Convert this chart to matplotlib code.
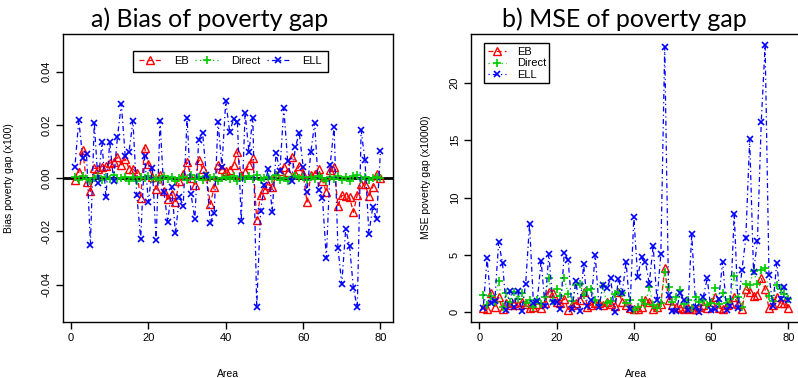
import matplotlib
matplotlib.use("Agg")
import matplotlib.pyplot as plt
import numpy as np

areas = list(range(1, 81))

bias_eb = [-0.0008, 0.0022, 0.0107, -0.0016, -0.0050, 0.0037, 0.0036, 0.0043, 0.0045, 0.0056,
           0.0062, 0.0079, 0.0050, 0.0072, 0.0036, 0.0034, 0.0018, -0.0075, 0.0115, 0.0052,
           0.0005, -0.0042, 0.0011, -0.0050, -0.0080, -0.0060, -0.0088, -0.0011, 0.0015, 0.0060,
           0.0002, -0.0024, 0.0069, 0.0034, 0.0008, -0.0098, -0.0033, 0.0050, 0.0036, 0.0027,
           0.0030, 0.0050, 0.0098, 0.0010, 0.0024, 0.0050, 0.0075, -0.0156, -0.0062, -0.0042,
           -0.0024, -0.0033, 0.0011, 0.0027, 0.0043, 0.0024, 0.0081, 0.0017, 0.0046, 0.0017,
           -0.0090, 0.0011, 0.0017, 0.0036, -0.0010, -0.0052, 0.0030, 0.0043, -0.0105, -0.0065,
           -0.0068, -0.0072, -0.0128, -0.0062, -0.0021, -0.0021, -0.0068, -0.0033, 0.0014, 0.0000]

bias_direct = [0.0004, -0.0006, 0.0009, -0.0003, -0.0011, 0.0002, 0.0007, -0.0008, 0.0003, -0.0002,
               0.0010, -0.0005, 0.0001, 0.0006, -0.0009, 0.0004, -0.0012, 0.0005, -0.0001, 0.0008,
               -0.0004, 0.0002, -0.0007, 0.0009, -0.0003, 0.0006, -0.0010, 0.0001, 0.0004, -0.0006,
               0.0011, -0.0002, 0.0003, -0.0008, 0.0007, -0.0001, 0.0005, -0.0009, 0.0002, 0.0006,
               -0.0004, 0.0008, -0.0011, 0.0003, -0.0005, 0.0009, -0.0002, 0.0012, -0.0007, 0.0001,
               0.0005, -0.0003, 0.0010, -0.0006, 0.0002, -0.0009, 0.0004, 0.0007, -0.0001, 0.0003,
               -0.0008, 0.0006, -0.0004, 0.0009, 0.0001, -0.0010, 0.0005, -0.0002, 0.0008, -0.0006,
               0.0003, -0.0012, 0.0007, 0.0010, -0.0003, 0.0004, -0.0007, 0.0002, 0.0006, -0.0001]

bias_ell = [0.0043, 0.0218, 0.0077, 0.0090, -0.0250, 0.0208, -0.0020, 0.0136, -0.0071, 0.0136,
            -0.0010, 0.0154, 0.0279, 0.0084, 0.0100, 0.0215, -0.0065, -0.0227, 0.0085, -0.0090,
            0.0039, -0.0232, 0.0215, -0.0052, -0.0166, -0.0033, -0.0207, -0.0071, -0.0103, 0.0225,
            -0.0058, -0.0154, 0.0145, 0.0170, 0.0011, -0.0169, -0.0131, 0.0212, 0.0043, 0.0290,
            0.0174, 0.0221, 0.0212, -0.0160, 0.0243, 0.0098, 0.0227, -0.0483, -0.0122, -0.0024,
            0.0034, -0.0126, 0.0094, 0.0027, 0.0263, 0.0065, -0.0009, 0.0116, 0.0170, 0.0043,
            -0.0052, 0.0098, 0.0208, -0.0046, -0.0075, -0.0300, 0.0050, 0.0192, -0.0262, -0.0397,
            -0.0192, -0.0253, -0.0414, -0.0485, 0.0179, 0.0067, -0.0208, -0.0109, -0.0154, 0.0103]

mse_eb = [0.35, 0.25, 1.65, 0.5, 1.3, 0.25, 0.8, 0.6, 0.85, 0.65,
          0.9, 0.7, 0.35, 0.5, 0.75, 0.4, 0.8, 1.8, 1.7, 0.9,
          0.8, 1.2, 0.2, 0.6, 0.8, 1.1, 1.8, 0.5, 0.65, 0.8,
          0.85, 0.6, 0.9, 0.7, 0.55, 1.8, 0.9, 0.6, 0.4, 0.25,
          0.3, 0.5, 1.1, 0.9, 0.25, 0.5, 0.7, 3.85, 1.1, 0.65,
          0.5, 0.4, 0.3, 0.4, 0.25, 0.3, 0.5, 0.6, 0.4, 0.9,
          1.3, 0.4, 0.25, 0.6, 0.8, 1.35, 0.7, 0.25, 2.0, 1.8,
          1.4, 1.5, 3.0, 2.0, 0.35, 0.65, 1.35, 0.8, 0.8, 0.35]

mse_direct = [1.5, 0.6, 1.4, 0.9, 2.7, 0.5, 1.65, 0.9, 1.8, 1.2,
              1.65, 0.8, 1.1, 0.5, 1.1, 0.7, 1.3, 2.95, 1.0, 2.0,
              1.4, 2.95, 1.6, 1.0, 2.4, 2.5, 1.5, 1.95, 2.0, 1.1,
              0.6, 2.3, 0.8, 1.0, 1.6, 1.8, 1.65, 0.8, 1.1, 0.2,
              0.5, 1.1, 0.7, 2.2, 0.6, 0.35, 0.8, 3.55, 2.2, 0.9,
              1.35, 1.95, 0.7, 1.1, 0.4, 1.35, 0.9, 1.1, 0.6, 0.8,
              2.1, 0.7, 1.65, 0.8, 1.2, 3.15, 1.35, 0.5, 2.5, 2.4,
              3.6, 2.5, 3.65, 3.85, 1.4, 1.0, 2.4, 2.0, 1.6, 1.2]

mse_ell = [0.35, 4.7, 0.8, 1.0, 6.1, 4.3, 0.2, 1.9, 0.5, 1.9,
           0.15, 2.5, 7.7, 0.8, 1.0, 4.5, 0.55, 5.1, 0.9, 0.9,
           0.25, 5.2, 4.55, 0.25, 2.75, 0.15, 4.2, 0.55, 1.05, 5.0,
           0.45, 2.4, 2.1, 2.95, 0.05, 2.9, 1.7, 4.4, 0.25, 8.3,
           3.1, 4.85, 4.4, 2.5, 5.8, 1.05, 5.1, 23.1, 1.5, 0.15,
           0.15, 1.65, 1.05, 0.2, 6.8, 0.45, 0.05, 1.35, 2.95, 0.2,
           0.25, 1.2, 4.4, 0.2, 0.55, 8.6, 0.35, 3.7, 6.5, 15.1,
           3.5, 6.2, 16.6, 23.3, 3.25, 0.55, 4.3, 1.2, 2.2, 1.1]

series_names = ["EB", "Direct", "ELL"]
colors = ["#FF0000", "#00CD00", "#0000FF"]
markers = ["^", "+", "x"]
linestyles = [(0, (4, 2.5)), (0, (1, 2.5)), (0, (1, 2.5, 4, 2.5))]

plt.rcParams["font.family"] = ["Liberation Sans", "DejaVu Sans"]

fig = plt.figure(figsize=(7.98, 3.78), dpi=100)
W, H = 798.0, 378.0

def frac_box(x0, y0, x1, y1):
    return [x0 / W, 1 - y1 / H, (x1 - x0) / W, (y1 - y0) / H]

ax1 = fig.add_axes(frac_box(62.7, 34.3, 392.7, 322.0))
ax2 = fig.add_axes(frac_box(471.0, 33.6, 800.5, 321.7))

def draw(ax, data):
    handles = []
    for vals, name, c, m, ls in zip(data, series_names, colors, markers, linestyles):
        if m == "^":
            mk = dict(marker="^", markersize=5.2, markerfacecolor="none",
                      markeredgecolor=c, markeredgewidth=1.0)
        elif m == "+":
            mk = dict(marker="+", markersize=5.5, markeredgecolor=c, markeredgewidth=1.2)
        else:
            mk = dict(marker="x", markersize=4.5, markeredgecolor=c, markeredgewidth=1.2)
        h, = ax.plot(areas, vals, color=c, linestyle=ls, linewidth=0.9, label=name, **mk)
        handles.append(h)
    return handles

def style(ax):
    for s in ax.spines.values():
        s.set_linewidth(1.0)
        s.set_color("black")
    ax.tick_params(direction="out", length=5, width=1.0, labelsize=8, colors="black", pad=3)
    ax.set_xlim(-2.16, 83.16)
    ax.set_xticks([0, 20, 40, 60, 80])
    for lab in ax.get_yticklabels():
        lab.set_rotation(90)
        lab.set_va("center")
    ax.set_xlabel("Area", fontsize=7.5)
    ax.xaxis.set_label_coords(0.5, -0.165)

# Left panel
ax1.axhline(0, color="black", linewidth=2.0, zorder=1)
h1 = draw(ax1, [bias_eb, bias_direct, bias_ell])
ax1.set_ylim(-0.054, 0.054)
ax1.set_yticks([-0.04, -0.02, 0.0, 0.02, 0.04])
ax1.set_yticklabels(["-0.04", "-0.02", "0.00", "0.02", "0.04"])
style(ax1)
ax1.set_ylabel("Bias poverty gap (x100)", fontsize=7.5)
ax1.yaxis.set_label_coords(-0.148, 0.5)
leg1 = ax1.legend(handles=h1, ncol=3, loc="upper center", bbox_to_anchor=(0.508, 0.963),
                  fontsize=8, frameon=True, fancybox=False, edgecolor="black", framealpha=1,
                  handlelength=2.0, handletextpad=1.2, columnspacing=0.6, borderpad=0.5)
leg1.get_frame().set_linewidth(1.0)

# Right panel
h2 = draw(ax2, [mse_eb, mse_direct, mse_ell])
ax2.set_ylim(-0.82, 24.3)
ax2.set_yticks([0, 5, 10, 15, 20])
style(ax2)
ax2.set_ylabel("MSE poverty gap (x10000)", fontsize=7.5)
ax2.yaxis.set_label_coords(-0.12, 0.5)
leg2 = ax2.legend(handles=h2, ncol=1, loc="upper left", bbox_to_anchor=(0.024, 0.985),
                  fontsize=8, frameon=True, fancybox=False, edgecolor="black", framealpha=1,
                  handlelength=1.6, handletextpad=1.0, borderpad=0.3, labelspacing=0.15)
leg2.get_frame().set_linewidth(1.0)

fig.text(209.5 / W, 1 - 19 / H, "a) Bias of poverty gap", fontsize=18, ha="center", va="center",
         family=["Lato", "DejaVu Sans"])
fig.text(624.5 / W, 1 - 19 / H, "b) MSE of poverty gap", fontsize=18, ha="center", va="center",
         family=["Lato", "DejaVu Sans"])

fig.savefig("out.png", dpi=100)
